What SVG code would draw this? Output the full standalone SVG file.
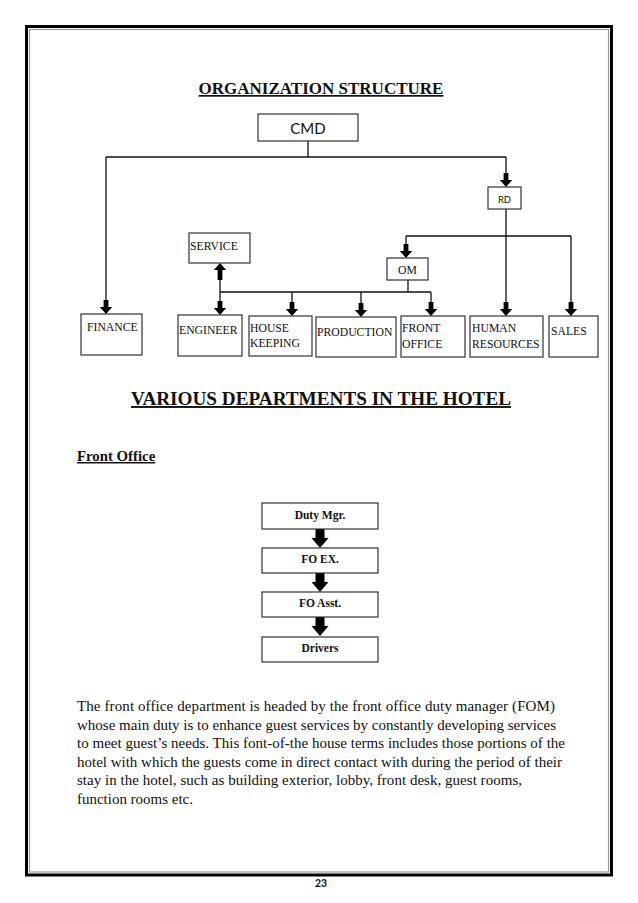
<svg xmlns="http://www.w3.org/2000/svg" width="638" height="903" viewBox="0 0 638 903">
<style>
.box{fill:#fff;stroke:#333;stroke-width:1.2}
.ln{fill:none;stroke:#111;stroke-width:1.3}
.t{font-family:"Liberation Serif","Times New Roman",serif;font-size:11.7px;fill:#111}
.s{font-family:Lato,"Open Sans",sans-serif;fill:#111}
.b{font-family:"Liberation Serif","Times New Roman",serif;font-weight:bold;fill:#111}
.p{font-family:"Liberation Serif","Times New Roman",serif;font-size:15px;fill:#111}
.ar{fill:#000}
</style>
<defs>
<path id="dn" d="M-2.4,-14 H2.4 V-7 H6.2 L0,0 L-6.2,-7 H-2.4 Z"/>
<path id="up" d="M-2.4,17 H2.4 V7 H6.2 L0,0 L-6.2,7 H-2.4 Z"/>
<path id="bdn" d="M-4.5,0 H4.5 V9 H8.5 L0,19 L-8.5,9 H-4.5 Z"/>
</defs>
<rect width="638" height="903" fill="#fff"/>
<g id="border">
<rect x="26.5" y="26.5" width="585" height="848.5" fill="none" stroke="#000" stroke-width="3"/>
<rect x="29.5" y="29.5" width="579" height="842.5" fill="none" stroke="#999" stroke-width="1.2"/>
</g>
<text class="b" x="321" y="94" font-size="17" text-anchor="middle" text-decoration="underline">ORGANIZATION STRUCTURE</text>
<g id="connectors">
<path class="ln" d="M308,141 V157 M106,157 H506 M106,157 V301 M506,157 V174 M506,209 V303 M406,236 H571 M406,236 V245 M571,236 V303 M408,280 V292 M220,292 H431 M220,280 V301 M292,292 V303 M361,292 V304 M431,292 V303"/>
<use href="#dn" class="ar" x="106" y="314"/>
<use href="#dn" class="ar" x="506" y="187"/>
<use href="#dn" class="ar" x="506" y="316"/>
<use href="#dn" class="ar" x="406" y="258"/>
<use href="#dn" class="ar" x="571" y="316"/>
<use href="#dn" class="ar" x="220" y="315"/>
<use href="#dn" class="ar" x="292" y="316"/>
<use href="#dn" class="ar" x="361" y="317"/>
<use href="#dn" class="ar" x="431" y="316"/>
<use href="#up" class="ar" x="220" y="263"/>
<use href="#bdn" class="ar" x="320" y="529"/>
<use href="#bdn" class="ar" x="320" y="573"/>
<use href="#bdn" class="ar" x="320" y="617"/>
</g>
<g id="cmd"><rect class="box" x="258" y="114" width="100" height="27"/><text class="s" x="308" y="134" font-size="15" text-anchor="middle">CMD</text></g>
<g id="rd"><rect class="box" x="488" y="187" width="33" height="22"/><text class="s" x="504.5" y="203" font-size="9.5" text-anchor="middle">RD</text></g>
<g id="service"><rect class="box" x="189" y="233" width="61" height="30"/><text class="t" x="190" y="250">SERVICE</text></g>
<g id="om"><rect class="box" x="387" y="258" width="41" height="22"/><text class="t" x="407.5" y="274" text-anchor="middle">OM</text></g>
<g id="finance"><rect class="box" x="81" y="314" width="61" height="41"/><text class="t" x="87" y="331">FINANCE</text></g>
<g id="engineer"><rect class="box" x="178" y="315" width="64" height="41"/><text class="t" x="179" y="334">ENGINEER</text></g>
<g id="housekeeping"><rect class="box" x="249" y="316" width="63" height="40"/><text class="t" x="250" y="332">HOUSE</text><text class="t" x="250" y="347">KEEPING</text></g>
<g id="production"><rect class="box" x="316" y="317" width="80" height="40"/><text class="t" x="317" y="336">PRODUCTION</text></g>
<g id="frontoffice"><rect class="box" x="401" y="316" width="64" height="41"/><text class="t" x="402" y="332">FRONT</text><text class="t" x="402" y="348">OFFICE</text></g>
<g id="hr"><rect class="box" x="470" y="316" width="73" height="41"/><text class="t" x="472" y="332">HUMAN</text><text class="t" x="472" y="348">RESOURCES</text></g>
<g id="sales"><rect class="box" x="549" y="316" width="49" height="41"/><text class="t" x="551" y="335">SALES</text></g>
<text class="b" x="321" y="405" font-size="19.2" text-anchor="middle" text-decoration="underline">VARIOUS DEPARTMENTS IN THE HOTEL</text>
<text class="b" x="77" y="461" font-size="14.8" text-decoration="underline">Front Office</text>
<g id="dutymgr"><rect class="box" x="262" y="503" width="116" height="26"/><text class="b" x="320" y="519" font-size="11.5" text-anchor="middle">Duty Mgr.</text></g>
<g id="foex"><rect class="box" x="262" y="548" width="116" height="25"/><text class="b" x="320" y="563" font-size="11.5" text-anchor="middle">FO EX.</text></g>
<g id="foasst"><rect class="box" x="262" y="592" width="116" height="25"/><text class="b" x="320" y="607" font-size="11.5" text-anchor="middle">FO Asst.</text></g>
<g id="drivers"><rect class="box" x="262" y="637" width="116" height="25"/><text class="b" x="320" y="652" font-size="11.5" text-anchor="middle">Drivers</text></g>
<g id="paragraph">
<text class="p" x="77" y="711" textLength="478" lengthAdjust="spacing">The front office department is headed by the front office duty manager (FOM)</text>
<text class="p" x="77" y="729.5" textLength="479" lengthAdjust="spacing">whose main duty is to enhance guest services by constantly developing services</text>
<text class="p" x="77" y="748" textLength="488" lengthAdjust="spacing">to meet guest’s needs. This font-of-the house terms includes those portions of the</text>
<text class="p" x="77" y="766.5" textLength="485" lengthAdjust="spacing">hotel with which the guests come in direct contact with during the period of their</text>
<text class="p" x="77" y="785" textLength="445" lengthAdjust="spacing">stay in the hotel, such as building exterior, lobby, front desk, guest rooms,</text>
<text class="p" x="77" y="803.5" textLength="116" lengthAdjust="spacing">function rooms etc.</text>
</g>
<text class="s" x="321" y="887" font-size="10.5" font-weight="bold" text-anchor="middle">23</text>
</svg>
